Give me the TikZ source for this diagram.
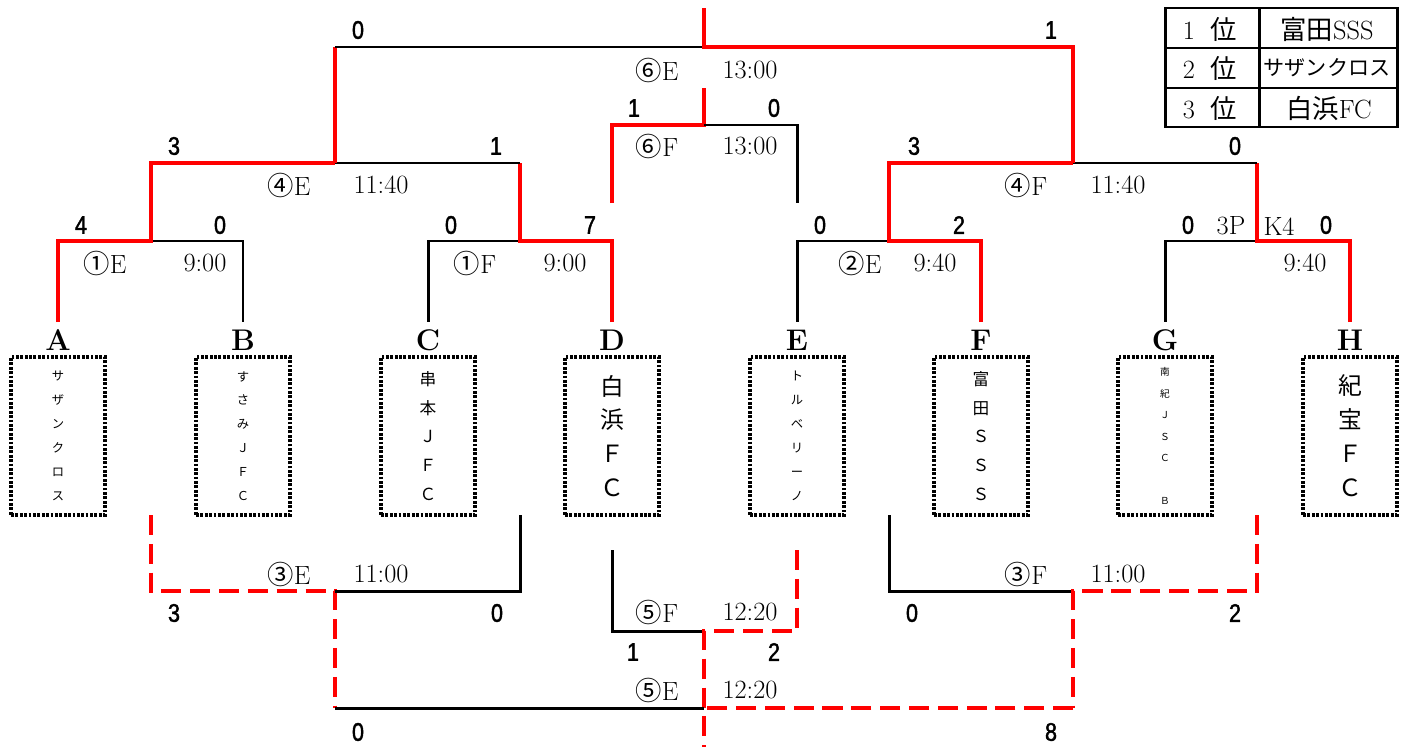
\documentclass[tikz,border=0pt]{standalone}
\usepackage{fontspec}
\newfontfamily\jp{Noto Sans CJK JP}
\newfontfamily\scorefont[FakeStretch=0.85, FakeBold=1.6]{Liberation Sans}
\tikzset{
  win/.style={red, line width=2.3pt},
  lose/.style={black, line width=1.7pt},
  winb/.style={red, line width=2.3pt, dash pattern=on 11.4pt off 5pt},
  score/.style={font={\scorefont\fontsize{14.5}{16}\selectfont}, inner sep=0pt},
  matchlbl/.style={font={\fontsize{15}{17}\selectfont}, inner sep=0pt},
  teamlbl/.style={font={\bfseries\fontsize{17}{20}\selectfont}, inner sep=0pt},
  teambox/.style={draw, line width=1.8pt, dash pattern=on 1.6pt off 0.9pt,
    minimum width=1.88cm, minimum height=3.16cm, inner sep=0pt, align=center},
  tbl/.style={line width=1.7pt},
  cell/.style={font={\fontsize{15}{17}\selectfont}, inner sep=0pt}
}
\begin{document}
\begin{tikzpicture}[x=0.02cm, y=-0.02cm]
\useasboundingbox (0,0) rectangle (1405,747);

% teams
\node[teamlbl] (A) at (58,340) {A};
\node[teamlbl] (B) at (243,340) {B};
\node[teamlbl] (C) at (428,340) {C};
\node[teamlbl] (D) at (612,340) {D};
\node[teamlbl] (E) at (797,340) {E};
\node[teamlbl] (F) at (981,340) {F};
\node[teamlbl] (G) at (1165,340) {G};
\node[teamlbl] (H) at (1350,340) {H};

\node[teambox, font={\jp\fontsize{7}{13.6}\selectfont}] (boxA) at (58,436) {サ\\ザ\\ン\\ク\\ロ\\ス};
\node[teambox, font={\jp\fontsize{7}{13.6}\selectfont}] (boxB) at (243,436) {す\\さ\\み\\Ｊ\\Ｆ\\Ｃ};
\node[teambox, font={\jp\fontsize{9.5}{16.4}\selectfont}] (boxC) at (428,436) {串\\本\\Ｊ\\Ｆ\\Ｃ};
\node[teambox, font={\jp\fontsize{13.5}{19.3}\selectfont}] (boxD) at (612,436) {白\\浜\\Ｆ\\Ｃ};
\node[teambox, font={\jp\fontsize{7}{13.6}\selectfont}] (boxE) at (797,436) {ト\\ル\\ベ\\リ\\ー\\ノ};
\node[teambox, font={\jp\fontsize{9.5}{16.4}\selectfont}] (boxF) at (981,436) {富\\田\\Ｓ\\Ｓ\\Ｓ};
\node[teambox, font={\jp\fontsize{5.5}{12.2}\selectfont}] (boxG) at (1165,436) {南\\紀\\Ｊ\\Ｓ\\Ｃ\\\mbox{}\\Ｂ};
\node[teambox, font={\jp\fontsize{13.5}{19.3}\selectfont}] (boxH) at (1350,436) {紀\\宝\\Ｆ\\Ｃ};

% ends of the lines
\coordinate (tA) at (58,322);
\coordinate (tB) at (243,322);
\coordinate (tC) at (428,322);
\coordinate (tD) at (612,322);
\coordinate (tE) at (797,322);
\coordinate (tF) at (981,322);
\coordinate (tG) at (1165,322);
\coordinate (tH) at (1350,322);
\coordinate (bAB) at (151,515);
\coordinate (bCD) at (520,515);
\coordinate (bEF) at (889,515);
\coordinate (bGH) at (1257,515);
\coordinate (bD) at (612,550);
\coordinate (bE) at (797,550);
\coordinate (sD) at (612,203);
\coordinate (sE) at (797,203);
\coordinate (head) at (704,8);
\coordinate (head6F) at (704,88);
\coordinate (foot) at (704,747);

% match points
\coordinate (m1E) at (151,241);
\coordinate (m1F) at (520,241);
\coordinate (m2E) at (889,241);
\coordinate (m2F) at (1257,241);
\coordinate (m4E) at (335,163);
\coordinate (m4F) at (1073,163);
\coordinate (m6E) at (704,47);
\coordinate (m6F) at (704,125);
\coordinate (m3E) at (335,591);
\coordinate (m3F) at (1073,591);
\coordinate (m5F) at (704,631);
\coordinate (m5E) at (704,708);

% upper bracket
\draw[lose] (m1E) -| (tB);
\draw[win] (tA) |- (m1E) |- (m4E);
\draw[lose] (m1F) -| (tC);
\draw[win] (tD) |- (m1F) -- (m1F |- m4E);
\draw[lose] (m4E) -- (m1F |- m4E);
\draw[lose] (m2E) -| (tE);
\draw[win] (tF) |- (m2E) |- (m4F);
\draw[lose] (m2F) -| (tG);
\draw[win] (tH) |- (m2F) -- (m2F |- m4F);
\draw[lose] (m4F) -- (m2F |- m4F);
\draw[win] (m4E) -- (m4E |- m6E);
\draw[lose] (m4E |- m6E) -- (m6E);
\draw[win] (m4F) |- (m6E) -- (head);
\draw[win] (sD) |- (m6F) -- (head6F);
\draw[lose] (m6F) -| (sE);

% lower bracket
\draw[winb] (bAB) |- (m3E) -- (m3E |- m5E);
\draw[lose] (m3E) -| (bCD);
\draw[lose] (bEF) |- (m3F);
\draw[winb] (bGH) |- (m3F) -- (m3F |- m5E);
\draw[lose] (bD) |- (m5F);
\draw[winb] (bE) |- (m5F) -- (foot);
\draw[lose] (m3E |- m5E) -- (m5E);
\draw[winb] (m3F |- m5E) -- (m5E);

% match names and times
\node[matchlbl] (n6E) at (657,70) {{\jp ⑥}E};
\node[matchlbl] (k6E) at (750,70) {13:00};
\node[matchlbl] (n6F) at (657,146) {{\jp ⑥}F};
\node[matchlbl] (k6F) at (750,146) {13:00};
\node[matchlbl] (n4E) at (289,185) {{\jp ④}E};
\node[matchlbl] (k4E) at (381,185) {11:40};
\node[matchlbl] (n4F) at (1026,185) {{\jp ④}F};
\node[matchlbl] (k4F) at (1118,185) {11:40};
\node[matchlbl] (n1E) at (105,263) {{\jp ①}E};
\node[matchlbl] (k1E) at (205,263) {9:00};
\node[matchlbl] (n1F) at (475,263) {{\jp ①}F};
\node[matchlbl] (k1F) at (565,263) {9:00};
\node[matchlbl] (n2E) at (860,263) {{\jp ②}E};
\node[matchlbl] (k2E) at (935,263) {9:40};
\node[matchlbl] (k2F) at (1305,263) {9:40};
\node[matchlbl] (pk) at (1231,226) {3P};
\node[matchlbl] (kk) at (1279,226) {K4};
\node[matchlbl] (n3E) at (289,574) {{\jp ③}E};
\node[matchlbl] (k3E) at (381,574) {11:00};
\node[matchlbl] (n3F) at (1026,574) {{\jp ③}F};
\node[matchlbl] (k3F) at (1118,574) {11:00};
\node[matchlbl] (n5F) at (657,612) {{\jp ⑤}F};
\node[matchlbl] (k5F) at (750,612) {12:20};
\node[matchlbl] (n5E) at (657,690) {{\jp ⑤}E};
\node[matchlbl] (k5E) at (750,690) {12:20};

% scores
\node[score] (s6Ea) at (358,30) {0};
\node[score] (s6Eb) at (1051,30) {1};
\node[score] (s6Fa) at (634,108) {1};
\node[score] (s6Fb) at (774,108) {0};
\node[score] (s4Ea) at (174,146) {3};
\node[score] (s4Eb) at (496,146) {1};
\node[score] (s4Fa) at (914,146) {3};
\node[score] (s4Fb) at (1235,146) {0};
\node[score] (s1Ea) at (81,225) {4};
\node[score] (s1Eb) at (220,225) {0};
\node[score] (s1Fa) at (451,225) {0};
\node[score] (s1Fb) at (590,225) {7};
\node[score] (s2Ea) at (820,225) {0};
\node[score] (s2Eb) at (959,225) {2};
\node[score] (s2Fa) at (1188,225) {0};
\node[score] (s2Fb) at (1326,225) {0};
\node[score] (s3Ea) at (174,613) {3};
\node[score] (s3Eb) at (497,613) {0};
\node[score] (s3Fa) at (912,613) {0};
\node[score] (s3Fb) at (1235,613) {2};
\node[score] (s5Fa) at (633,652) {1};
\node[score] (s5Fb) at (774,652) {2};
\node[score] (s5Ea) at (358,732) {0};
\node[score] (s5Eb) at (1051,732) {8};

% ranking table
\draw[tbl] (1165,8) rectangle (1397,127);
\draw[tbl] (1165,48) -- (1397,48);
\draw[tbl] (1165,88) -- (1397,88);
\draw[tbl] (1259,8) -- (1259,127);
\node[cell] (rank1) at (1210,29) {1\hspace{0.6em}{\jp 位}};
\node[cell] (rank2) at (1210,68) {2\hspace{0.6em}{\jp 位}};
\node[cell] (rank3) at (1210,108) {3\hspace{0.6em}{\jp 位}};
\node[cell] (team1) at (1327,29) {{\jp 富田}SSS};
\node[cell, font={\jp\fontsize{12}{14}\selectfont}] (team2) at (1327,68) {サザンクロス};
\node[cell] (team3) at (1329,108) {{\jp 白浜}FC};
\end{tikzpicture}
\end{document}
